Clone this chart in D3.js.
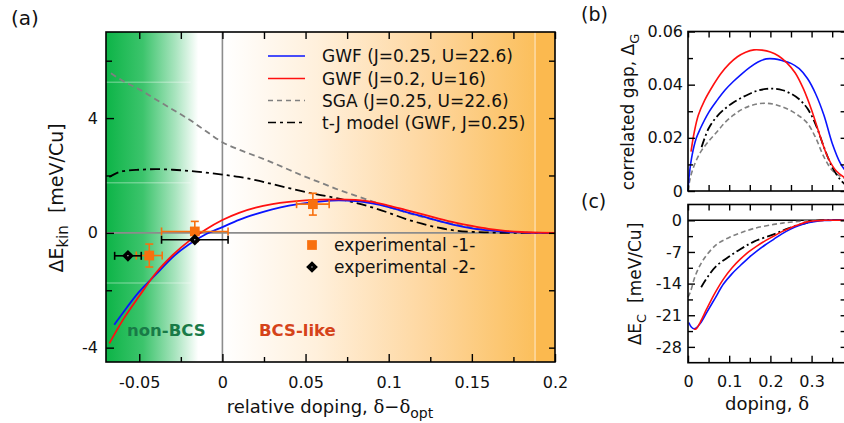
<!DOCTYPE html>
<html>
<head>
<meta charset="utf-8">
<script src="https://cdn.jsdelivr.net/npm/d3@7"></script>
<style>
  body { margin: 0; background: #fff; }
  text { font-family: 'DejaVu Sans', sans-serif; fill: #111; }
</style>
</head>
<body>
<script>
// ---- panel (a): kinetic energy gain vs relative doping ----
var aXTicks = [-0.05, 0, 0.05, 0.1, 0.15, 0.2];
var aXMinor = [-0.025, 0.025, 0.075, 0.125, 0.175];
var aYTicks = [-4, 0, 4];
var aYMinor = [-2, 2, 6];

var gwf25X = [-0.065, -0.06, -0.05, -0.04, -0.03, -0.02, -0.01, 0, 0.01, 0.02, 0.03, 0.04, 0.05, 0.06, 0.07, 0.08, 0.09, 0.1, 0.11, 0.12, 0.13, 0.14, 0.15, 0.16, 0.17, 0.18, 0.19, 0.2];
var gwf25Y = [-3.2, -2.8, -2.05, -1.45, -0.85, -0.4, -0.05, 0.2, 0.45, 0.65, 0.82, 0.95, 1.04, 1.1, 1.13, 1.11, 1.03, 0.9, 0.73, 0.58, 0.42, 0.27, 0.16, 0.09, 0.04, 0.015, 0, 0];

var gwf20X = [-0.068, -0.06, -0.05, -0.04, -0.03, -0.02, -0.01, 0, 0.01, 0.02, 0.03, 0.04, 0.05, 0.06, 0.07, 0.08, 0.09, 0.1, 0.11, 0.12, 0.13, 0.14, 0.15, 0.16, 0.17, 0.18, 0.19, 0.2];
var gwf20Y = [-3.85, -3.05, -2.2, -1.4, -0.78, -0.28, 0.12, 0.45, 0.7, 0.88, 1.0, 1.08, 1.13, 1.16, 1.17, 1.15, 1.08, 0.95, 0.8, 0.65, 0.5, 0.36, 0.24, 0.14, 0.07, 0.03, 0.01, 0];

var sgaX = [-0.067, -0.06, -0.05, -0.04, -0.03, -0.02, -0.01, 0, 0.01, 0.02, 0.03, 0.04, 0.05, 0.06, 0.07, 0.08, 0.09, 0.1, 0.11, 0.12, 0.13, 0.14, 0.15, 0.16, 0.17, 0.18, 0.19, 0.2];
var sgaY = [5.56, 5.3, 5.0, 4.65, 4.3, 3.95, 3.55, 3.16, 2.9, 2.68, 2.45, 2.2, 1.95, 1.73, 1.5, 1.3, 1.1, 0.9, 0.72, 0.56, 0.42, 0.3, 0.19, 0.11, 0.05, 0.02, 0.005, 0];

var tjX = [-0.068, -0.06, -0.05, -0.04, -0.03, -0.02, -0.01, 0, 0.01, 0.02, 0.03, 0.04, 0.05, 0.06, 0.07, 0.08, 0.09, 0.1, 0.11, 0.12, 0.13, 0.14, 0.15, 0.16, 0.17, 0.2];
var tjY = [1.95, 2.15, 2.2, 2.22, 2.2, 2.16, 2.1, 2.03, 1.95, 1.84, 1.7, 1.56, 1.42, 1.31, 1.19, 1.05, 0.89, 0.7, 0.49, 0.32, 0.18, 0.08, 0.035, 0.015, 0, 0];

var exp1X = [-0.044, -0.0166, 0.0544];
var exp1Y = [-0.79, 0.05, 1.0];
var exp1XErr = [0.0078, 0.02, 0.0098];
var exp1YErr = [0.4, 0.35, 0.38];

var exp2X = [-0.0568, -0.0166];
var exp2Y = [-0.8, -0.24];
var exp2XErr = [0.008, 0.02];

var legendNames = ['GWF (J=0.25, U=22.6)', 'GWF (J=0.2, U=16)', 'SGA (J=0.25, U=22.6)', 't-J model (GWF, J=0.25)'];
var expNames = ['experimental -1-', 'experimental -2-'];

// ---- panel (b): correlated gap vs doping ----
var bXTicks = [0, 0.05, 0.1, 0.15, 0.2, 0.25, 0.3, 0.35];
var bYTicks = [0, 0.02, 0.04, 0.06];
var bYMinor = [0.01, 0.03, 0.05];

var gapBlueX = [0, 0.003, 0.01, 0.02, 0.03, 0.05, 0.07, 0.09, 0.11, 0.13, 0.15, 0.17, 0.19, 0.21, 0.23, 0.25, 0.27, 0.29, 0.31, 0.33, 0.35, 0.37, 0.385];
var gapBlueY = [0, 0.006, 0.0135, 0.0198, 0.0235, 0.0295, 0.034, 0.038, 0.0412, 0.044, 0.0465, 0.0485, 0.0497, 0.0497, 0.049, 0.048, 0.046, 0.0423, 0.0365, 0.0285, 0.018, 0.0104, 0.007];

var gapRedX = [0.0073, 0.015, 0.025, 0.04, 0.06, 0.08, 0.1, 0.12, 0.14, 0.16, 0.18, 0.2, 0.22, 0.24, 0.26, 0.28, 0.3, 0.32, 0.34, 0.36, 0.385];
var gapRedY = [0.0148, 0.022, 0.0285, 0.034, 0.0395, 0.0442, 0.0478, 0.0505, 0.0522, 0.0531, 0.053, 0.0523, 0.0508, 0.0482, 0.0445, 0.0385, 0.0305, 0.021, 0.0125, 0.0075, 0.0045];

var gapTjX = [0.033, 0.05, 0.07, 0.09, 0.11, 0.13, 0.15, 0.17, 0.19, 0.21, 0.23, 0.25, 0.27, 0.29, 0.31, 0.33, 0.35, 0.37, 0.385];
var gapTjY = [0.0165, 0.0235, 0.028, 0.031, 0.0333, 0.0351, 0.0366, 0.0378, 0.0384, 0.0385, 0.0379, 0.0366, 0.0345, 0.031, 0.025, 0.0165, 0.009, 0.0042, 0.002];

var gapSgaX = [0, 0.005, 0.014, 0.03, 0.05, 0.07, 0.09, 0.11, 0.13, 0.15, 0.17, 0.19, 0.21, 0.23, 0.25, 0.27, 0.29, 0.31, 0.33, 0.35, 0.37, 0.385];
var gapSgaY = [0, 0.0045, 0.0092, 0.0145, 0.0187, 0.0222, 0.0258, 0.0285, 0.0306, 0.032, 0.0328, 0.033, 0.0326, 0.0316, 0.0302, 0.0282, 0.0255, 0.02, 0.0128, 0.0078, 0.0055, 0.0045];

// ---- panel (c): condensation energy vs doping ----
var cXTicks = [0, 0.1, 0.2, 0.3];
var cXMinor = [0.05, 0.15, 0.25, 0.35];
var cYTicks = [-28, -21, -14, -7, 0];
var cYMinor = [-24.5, -17.5, -10.5, -3.5];

var ecSgaX = [0, 0.006, 0.018, 0.038, 0.07, 0.1, 0.127, 0.16, 0.208, 0.24, 0.273, 0.3, 0.385];
var ecSgaY = [-17, -15.8, -12.2, -8.6, -5.3, -3.8, -2.8, -1.8, -0.9, -0.5, -0.2, 0, 0];

var ecTjX = [0.032, 0.05, 0.07, 0.1, 0.127, 0.16, 0.208, 0.24, 0.273, 0.3, 0.32, 0.385];
var ecTjY = [-14.8, -12.2, -10, -8, -6.4, -4.7, -3.1, -1.9, -0.9, -0.3, 0, 0];

var ecRedX = [0.014, 0.02, 0.03, 0.046, 0.066, 0.086, 0.106, 0.127, 0.147, 0.167, 0.188, 0.208, 0.228, 0.248, 0.268, 0.289, 0.31, 0.33, 0.385];
var ecRedY = [-24.1, -24.0, -22.5, -19.5, -16.0, -13.0, -10.6, -8.6, -7.0, -5.7, -4.5, -3.5, -2.5, -1.7, -1.0, -0.35, -0.08, 0, 0];

var ecBlueX = [0.002, 0.008, 0.015, 0.02, 0.03, 0.046, 0.066, 0.086, 0.106, 0.127, 0.147, 0.167, 0.188, 0.208, 0.228, 0.248, 0.268, 0.289, 0.31, 0.33, 0.35, 0.385];
var ecBlueY = [-22.6, -23.6, -24.0, -23.8, -22.8, -20.3, -17.2, -14.1, -11.9, -10, -8.3, -6.8, -5.4, -4.2, -3.0, -2.0, -1.2, -0.6, -0.25, -0.05, 0, 0];

var colors = {blue: '#0a14ff', red: '#ff1010', gray: '#808080', black: '#000', orange: '#f8700f'};
var styles = [
    {color: colors.blue, dash: null, width: 1.8},
    {color: colors.red, dash: null, width: 1.8},
    {color: colors.gray, dash: '6,4', width: 1.8},
    {color: colors.black, dash: '10,4,3,4', width: 1.8}
];

var svg = d3.select('body').append('svg')
    .attr('width', 844)
    .attr('height', 423);

var defs = svg.append('defs');

/** Helper functions **/

function zip(xs, ys) {
    return xs.map(function(d, i) { return [d, ys[i]]; });
}

function drawCurve(g, x, y, xs, ys, style, curve) {
    var line = d3.line()
        .x(function(d) { return x(d[0]); })
        .y(function(d) { return y(d[1]); })
        .curve(curve || d3.curveMonotoneX);
    g.append('path')
        .attr('d', line(zip(xs, ys)))
        .attr('fill', 'none')
        .attr('stroke', style.color)
        .attr('stroke-width', style.width)
        .attr('stroke-dasharray', style.dash);
}

function styleAxis(g, size) {
    g.select('.domain').remove();
    g.attr('font-family', "'DejaVu Sans', sans-serif")
        .attr('font-size', size || 16);
    g.selectAll('line').attr('stroke-width', 1.4);
    g.selectAll('text').attr('fill', '#111');
}

function frame(g, x0, y0, x1, y1) {
    g.append('rect')
        .attr('x', x0).attr('y', y0)
        .attr('width', x1 - x0).attr('height', y1 - y0)
        .attr('fill', 'none')
        .attr('stroke', '#000')
        .attr('stroke-width', 1.6);
}

var smooth = d3.curveCatmullRom.alpha(0.5);

/** Panel (a) **/

var pa = {l: 106, r: 555, t: 32, b: 362};
var xA = d3.scaleLinear().domain([-0.07, 0.2]).range([pa.l, pa.r]);
var yA = d3.scaleLinear().domain([-4.5, 7]).range([pa.b, pa.t]);

defs.append('clipPath').attr('id', 'clipA')
    .append('rect')
    .attr('x', pa.l).attr('y', pa.t)
    .attr('width', pa.r - pa.l).attr('height', pa.b - pa.t);

var green = defs.append('linearGradient')
    .attr('id', 'greenGrad')
    .attr('gradientUnits', 'userSpaceOnUse')
    .attr('x1', xA(-0.07)).attr('x2', xA(-0.0145))
    .attr('y1', 0).attr('y2', 0);
green.append('stop').attr('offset', 0).attr('stop-color', '#0db447');
green.append('stop').attr('offset', 0.4).attr('stop-color', '#3cc46c');
green.append('stop').attr('offset', 0.75).attr('stop-color', '#a8e4be');
green.append('stop').attr('offset', 1).attr('stop-color', '#ffffff');

var orange = defs.append('linearGradient')
    .attr('id', 'orangeGrad')
    .attr('gradientUnits', 'userSpaceOnUse')
    .attr('x1', xA(0)).attr('x2', xA(0.188))
    .attr('y1', 0).attr('y2', 0);
orange.append('stop').attr('offset', 0).attr('stop-color', '#ffffff');
orange.append('stop').attr('offset', 0.3).attr('stop-color', '#fff0dc');
orange.append('stop').attr('offset', 0.65).attr('stop-color', '#fed7a0');
orange.append('stop').attr('offset', 1).attr('stop-color', '#fbbf5c');

var ga = svg.append('g');

ga.append('rect')
    .attr('x', xA(-0.07)).attr('y', pa.t)
    .attr('width', xA(-0.0145) - xA(-0.07)).attr('height', pa.b - pa.t)
    .attr('fill', 'url(#greenGrad)');
ga.append('rect')
    .attr('x', xA(0)).attr('y', pa.t)
    .attr('width', xA(0.188) - xA(0)).attr('height', pa.b - pa.t)
    .attr('fill', 'url(#orangeGrad)');
ga.append('rect')
    .attr('x', xA(0.188)).attr('y', pa.t)
    .attr('width', xA(0.2) - xA(0.188)).attr('height', pa.b - pa.t)
    .attr('fill', '#fbb94f');
ga.append('line')
    .attr('x1', xA(0.188)).attr('x2', xA(0.188))
    .attr('y1', pa.t).attr('y2', pa.b)
    .attr('stroke', '#fde3bb').attr('stroke-width', 1.2);

// faint light stripes in the green band
ga.selectAll('.stripe')
    .data([5.25, 1.75, -1.75])
    .enter().append('line')
    .attr('class', 'stripe')
    .attr('x1', xA(-0.07)).attr('x2', xA(-0.019))
    .attr('y1', function(d) { return yA(d); })
    .attr('y2', function(d) { return yA(d); })
    .attr('stroke', '#fff').attr('stroke-opacity', 0.3).attr('stroke-width', 1.5);

// zero lines
ga.append('line')
    .attr('x1', xA(0)).attr('x2', xA(0))
    .attr('y1', pa.t).attr('y2', pa.b)
    .attr('stroke', '#8c8c8c').attr('stroke-width', 1.6);
ga.append('line')
    .attr('x1', pa.l).attr('x2', pa.r)
    .attr('y1', yA(0)).attr('y2', yA(0))
    .attr('stroke', '#8c8c8c').attr('stroke-width', 1.6);

ga.append('text')
    .attr('x', 127).attr('y', 336)
    .attr('font-size', 16.5).attr('font-weight', 'bold')
    .style('fill', '#197a47')
    .text('non-BCS');
ga.append('text')
    .attr('x', 259).attr('y', 336)
    .attr('font-size', 16.5).attr('font-weight', 'bold')
    .style('fill', '#d5431a')
    .text('BCS-like');

var curvesA = ga.append('g').attr('clip-path', 'url(#clipA)');
drawCurve(curvesA, xA, yA, sgaX, sgaY, styles[2]);
drawCurve(curvesA, xA, yA, tjX, tjY, styles[3]);
drawCurve(curvesA, xA, yA, gwf25X, gwf25Y, styles[0]);
drawCurve(curvesA, xA, yA, gwf20X, gwf20Y, styles[1]);

// experimental points with error bars
function errorBars(g, xs, ys, xErr, yErr, color) {
    var cap = 4;
    xs.forEach(function(xv, i) {
        var cx = xA(xv), cy = yA(ys[i]);
        var xl = xA(xv - xErr[i]), xr = xA(xv + xErr[i]);
        g.append('line').attr('x1', xl).attr('x2', xr).attr('y1', cy).attr('y2', cy)
            .attr('stroke', color).attr('stroke-width', 1.6);
        [xl, xr].forEach(function(px) {
            g.append('line').attr('x1', px).attr('x2', px).attr('y1', cy - cap).attr('y2', cy + cap)
                .attr('stroke', color).attr('stroke-width', 1.6);
        });
        if (yErr) {
            var yt = yA(ys[i] + yErr[i]), yb = yA(ys[i] - yErr[i]);
            g.append('line').attr('x1', cx).attr('x2', cx).attr('y1', yt).attr('y2', yb)
                .attr('stroke', color).attr('stroke-width', 1.6);
            [yt, yb].forEach(function(py) {
                g.append('line').attr('x1', cx - cap).attr('x2', cx + cap).attr('y1', py).attr('y2', py)
                    .attr('stroke', color).attr('stroke-width', 1.6);
            });
        }
    });
}

var square = d3.symbol().type(d3.symbolSquare).size(95);
var diamond = d3.symbol().type(d3.symbolSquare).size(22);

var expG = ga.append('g');
errorBars(expG, exp1X, exp1Y, exp1XErr, exp1YErr, colors.orange);
expG.selectAll('.exp1')
    .data(zip(exp1X, exp1Y))
    .enter().append('path')
    .attr('class', 'exp1')
    .attr('d', square)
    .attr('transform', function(d) { return 'translate(' + xA(d[0]) + ',' + yA(d[1]) + ')'; })
    .attr('fill', colors.orange);

errorBars(expG, exp2X, exp2Y, exp2XErr, null, '#000');
expG.selectAll('.exp2')
    .data(zip(exp2X, exp2Y))
    .enter().append('path')
    .attr('class', 'exp2')
    .attr('d', diamond)
    .attr('transform', function(d) { return 'translate(' + xA(d[0]) + ',' + yA(d[1]) + ') rotate(45)'; })
    .attr('fill', '#fff')
    .attr('stroke', '#000')
    .attr('stroke-width', 3.6);

// legend
var legend = ga.append('g');
var legendRowY = [56, 78.5, 100.5, 122.5];
legendNames.forEach(function(name, i) {
    legend.append('line')
        .attr('x1', 268).attr('x2', 305)
        .attr('y1', legendRowY[i]).attr('y2', legendRowY[i])
        .attr('stroke', styles[i].color)
        .attr('stroke-width', 1.6)
        .attr('stroke-dasharray', styles[i].dash ? (i == 2 ? '5,4' : '8,4,3,4') : null);
    legend.append('text')
        .attr('x', 322).attr('y', legendRowY[i] + 6)
        .attr('font-size', 17)
        .text(name);
});
legend.append('path')
    .attr('d', square)
    .attr('transform', 'translate(312,245)')
    .attr('fill', colors.orange);
legend.append('path')
    .attr('d', diamond)
    .attr('transform', 'translate(312,267) rotate(45)')
    .attr('fill', '#fff').attr('stroke', '#000').attr('stroke-width', 3.6);
legend.append('text').attr('x', 334).attr('y', 251).attr('font-size', 17).text(expNames[0]);
legend.append('text').attr('x', 334).attr('y', 273).attr('font-size', 17).text(expNames[1]);

frame(ga, pa.l, pa.t, pa.r, pa.b);

ga.append('g').attr('transform', 'translate(0,' + pa.b + ')')
    .call(d3.axisBottom(xA).tickValues(aXTicks).tickSize(-8).tickPadding(15).tickFormat(String))
    .call(styleAxis);
ga.append('g').attr('transform', 'translate(0,' + pa.b + ')')
    .call(d3.axisBottom(xA).tickValues(aXMinor).tickSize(-5).tickFormat(''))
    .call(styleAxis);
ga.append('g').attr('transform', 'translate(0,' + pa.t + ')')
    .call(d3.axisTop(xA).tickValues(aXTicks.concat(aXMinor)).tickSize(-7).tickFormat(''))
    .call(styleAxis);
ga.append('g').attr('transform', 'translate(' + pa.l + ',0)')
    .call(d3.axisLeft(yA).tickValues(aYTicks).tickSize(-8).tickPadding(8).tickFormat(String))
    .call(styleAxis);
ga.append('g').attr('transform', 'translate(' + pa.l + ',0)')
    .call(d3.axisLeft(yA).tickValues(aYMinor).tickSize(-6).tickFormat(''))
    .call(styleAxis);
ga.append('g').attr('transform', 'translate(' + pa.r + ',0)')
    .call(d3.axisRight(yA).tickValues(aYTicks.concat(aYMinor)).tickSize(-6).tickFormat(''))
    .call(styleAxis);

var xTitleA = ga.append('text')
    .attr('x', 330).attr('y', 413)
    .attr('text-anchor', 'middle')
    .attr('font-size', 18);
xTitleA.append('tspan').text('relative doping, ');
xTitleA.append('tspan').attr('font-family', "'DejaVu Serif', serif").text('δ');
xTitleA.append('tspan').text('−');
xTitleA.append('tspan').attr('font-family', "'DejaVu Serif', serif").text('δ');
xTitleA.append('tspan').attr('font-size', 14).attr('dy', 5).text('opt');

var yTitleA = ga.append('text')
    .attr('transform', 'translate(63,198) rotate(-90)')
    .attr('text-anchor', 'middle')
    .attr('font-size', 19);
yTitleA.append('tspan').text('ΔE');
yTitleA.append('tspan').attr('font-size', 15).attr('dy', 5).text('kin');
yTitleA.append('tspan').attr('dy', -5).text('\u00a0\u00a0[meV/Cu]');

svg.append('text').attr('x', 11).attr('y', 25).attr('font-size', 20).text('(a)');

/** Panel (b) **/

var pb = {l: 688, r: 846.6, t: 31.5, b: 191};
var xB = d3.scaleLinear().domain([0, 0.385]).range([pb.l, pb.r]);
var yB = d3.scaleLinear().domain([0, 0.06]).range([pb.b, pb.t]);

var gb = svg.append('g');
drawCurve(gb, xB, yB, gapSgaX, gapSgaY, {color: colors.gray, dash: '5,3', width: 1.6}, smooth);
drawCurve(gb, xB, yB, gapTjX, gapTjY, {color: colors.black, dash: '9,3,2,3', width: 1.8}, smooth);
drawCurve(gb, xB, yB, gapBlueX, gapBlueY, {color: colors.blue, dash: null, width: 1.6}, smooth);
drawCurve(gb, xB, yB, gapRedX, gapRedY, {color: colors.red, dash: null, width: 1.6}, smooth);

frame(gb, pb.l, pb.t, pb.r, pb.b);
gb.append('g').attr('transform', 'translate(0,' + pb.b + ')')
    .call(d3.axisBottom(xB).tickValues(bXTicks).tickSize(-6).tickFormat(''))
    .call(styleAxis);
gb.append('g').attr('transform', 'translate(0,' + pb.t + ')')
    .call(d3.axisTop(xB).tickValues(bXTicks).tickSize(-6).tickFormat(''))
    .call(styleAxis);
gb.append('g').attr('transform', 'translate(' + pb.l + ',0)')
    .call(d3.axisLeft(yB).tickValues(bYTicks).tickSize(-7).tickPadding(5).tickFormat(String))
    .call(styleAxis);
gb.append('g').attr('transform', 'translate(' + pb.l + ',0)')
    .call(d3.axisLeft(yB).tickValues(bYMinor).tickSize(-5).tickFormat(''))
    .call(styleAxis);
gb.append('g').attr('transform', 'translate(' + pb.r + ',0)')
    .call(d3.axisRight(yB).tickValues(bYTicks.concat(bYMinor)).tickSize(-6).tickFormat(''))
    .call(styleAxis);

var yTitleB = gb.append('text')
    .attr('transform', 'translate(634,112) rotate(-90)')
    .attr('text-anchor', 'middle')
    .attr('font-size', 17);
yTitleB.append('tspan').text('correlated gap, Δ');
yTitleB.append('tspan').attr('font-size', 13).attr('dy', 5).text('G');

svg.append('text').attr('x', 581).attr('y', 21).attr('font-size', 19).text('(b)');

/** Panel (c) **/

var pc = {l: 688, r: 846.6, t: 204.5, b: 362.7};
var xC = d3.scaleLinear().domain([0, 0.385]).range([pc.l, pc.r]);
var yC = d3.scaleLinear().domain([-31.5, 3.5]).range([pc.b, pc.t]);

var gc = svg.append('g');
gc.append('line')
    .attr('x1', pc.l).attr('x2', pc.r)
    .attr('y1', yC(0)).attr('y2', yC(0))
    .attr('stroke', '#000').attr('stroke-width', 1.6);
drawCurve(gc, xC, yC, ecSgaX, ecSgaY, {color: colors.gray, dash: '5,3', width: 1.6}, smooth);
drawCurve(gc, xC, yC, ecTjX, ecTjY, {color: colors.black, dash: '9,3,2,3', width: 1.8}, smooth);
drawCurve(gc, xC, yC, ecBlueX, ecBlueY, {color: colors.blue, dash: null, width: 1.6}, smooth);
drawCurve(gc, xC, yC, ecRedX, ecRedY, {color: colors.red, dash: null, width: 1.6}, smooth);

frame(gc, pc.l, pc.t, pc.r, pc.b);
gc.append('g').attr('transform', 'translate(0,' + pc.b + ')')
    .call(d3.axisBottom(xC).tickValues(cXTicks).tickSize(-7).tickPadding(13).tickFormat(String))
    .call(styleAxis);
gc.append('g').attr('transform', 'translate(0,' + pc.b + ')')
    .call(d3.axisBottom(xC).tickValues(cXMinor).tickSize(-5).tickFormat(''))
    .call(styleAxis);
gc.append('g').attr('transform', 'translate(0,' + pc.t + ')')
    .call(d3.axisTop(xC).tickValues(cXTicks.concat(cXMinor)).tickSize(-6).tickFormat(''))
    .call(styleAxis);
gc.append('g').attr('transform', 'translate(' + pc.l + ',0)')
    .call(d3.axisLeft(yC).tickValues(cYTicks).tickSize(-7).tickPadding(6).tickFormat(String))
    .call(styleAxis);
gc.append('g').attr('transform', 'translate(' + pc.l + ',0)')
    .call(d3.axisLeft(yC).tickValues(cYMinor).tickSize(-5).tickFormat(''))
    .call(styleAxis);
gc.append('g').attr('transform', 'translate(' + pc.r + ',0)')
    .call(d3.axisRight(yC).tickValues(cYTicks.concat(cYMinor)).tickSize(-6).tickFormat(''))
    .call(styleAxis);

var yTitleC = gc.append('text')
    .attr('transform', 'translate(641,284) rotate(-90)')
    .attr('text-anchor', 'middle')
    .attr('font-size', 17);
yTitleC.append('tspan').text('ΔE');
yTitleC.append('tspan').attr('font-size', 13).attr('dy', 5).text('C');
yTitleC.append('tspan').attr('dy', -5).text('\u00a0\u00a0[meV/Cu]');

var xTitleC = gc.append('text')
    .attr('x', 767).attr('y', 410)
    .attr('text-anchor', 'middle')
    .attr('font-size', 18);
xTitleC.append('tspan').text('doping, ');
xTitleC.append('tspan').attr('font-family', "'DejaVu Serif', serif").text('δ');

svg.append('text').attr('x', 581).attr('y', 208).attr('font-size', 19).text('(c)');
</script>
</body>
</html>
